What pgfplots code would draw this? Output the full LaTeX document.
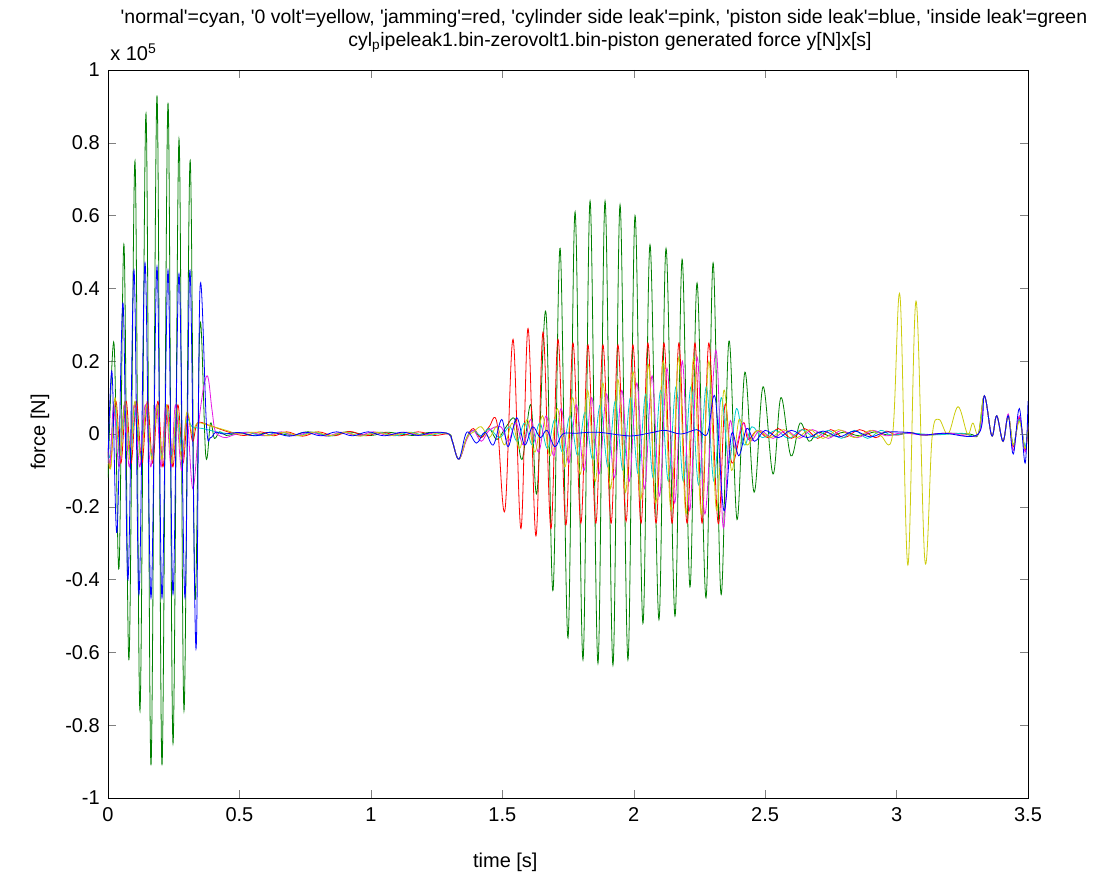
\documentclass[border=0pt]{standalone}
\usepackage{pgfplots}
\pgfplotsset{compat=1.18}
\usepackage{fontspec}
\setmainfont{Liberation Sans}
\newcommand\q{\textquotesingle}
\definecolor{mcyan}{rgb}{0,0.8,0.8}
\definecolor{myellow}{rgb}{0.8,0.8,0.05}
\definecolor{mgreen}{rgb}{0,0.5,0}
\definecolor{mred}{rgb}{1,0,0}
\definecolor{mpink}{rgb}{0.9,0.1,0.9}
\definecolor{mblue}{rgb}{0,0,1}
\begin{document}
\fontsize{15}{18}\selectfont
\begin{tikzpicture}
\path[use as bounding box] (-81pt,-58.5pt) rectangle (747pt,598.5pt);
\begin{axis}[at={(0,0)}, anchor=south west, width=690pt, height=546pt, scale only axis,
  xmin=0, xmax=3.5, ymin=-1, ymax=1,
  xtick={0,0.5,1,1.5,2,2.5,3,3.5},
  ytick={-1,-0.8,-0.6,-0.4,-0.2,0,0.2,0.4,0.6,0.8,1},
  tick align=inside, major tick length=6pt,
  /pgf/number format/assume math mode=true,
  tick label style={font=\fontsize{15}{18}\selectfont},
  yticklabel style={xshift=-1pt},
  xticklabel style={yshift=-2pt},
  axis line style={line width=0.6pt},
  every axis plot/.append style={line width=0.6pt, smooth, tension=0.6},
  clip=true]
% green
\addplot[mgreen] coordinates {
(0,-0.12)(0.0228,0.25)(0.0418,-0.37)(0.0609,0.52)(0.0799,-0.62)(0.1027,0.75)(0.1217,-0.76)(0.1446,0.88)(0.1636,-0.91)(0.1864,0.93)(0.2054,-0.91)(0.2283,0.91)(0.2473,-0.85)(0.2701,0.81)(0.2891,-0.76)(0.3120,0.75)(0.3310,-0.45)(0.3500,0.30)(0.372,-0.06)(0.39,0.03)(0.405,-0.012)(0.425,0.006)(0.45,-0.004)(0.50,0.003)(0.55,-0.004)(0.62,0.005)(0.70,-0.004)(0.76,0.006)(0.85,-0.005)(0.91,0.006)(1.00,-0.004)(1.06,0.005)(1.16,-0.004)(1.22,0.004)(1.297,0)(1.310,-0.02)(1.335,-0.069)(1.365,-0.01)(1.39,0.01)(1.42,-0.01)(1.45,0.015)(1.48,-0.015)(1.515,0.02)(1.548,0.04)(1.575,-0.07)(1.609,0.08)(1.632,-0.16)(1.666,0.335)(1.693,-0.43)(1.720,0.51)(1.750,-0.56)(1.777,0.61)(1.807,-0.62)(1.834,0.64)(1.864,-0.63)(1.891,0.64)(1.921,-0.635)(1.948,0.63)(1.978,-0.62)(2.005,0.60)(2.035,-0.52)(2.062,0.52)(2.096,-0.51)(2.123,0.51)(2.157,-0.50)(2.184,0.48)(2.214,-0.42)(2.241,0.415)(2.275,-0.45)(2.302,0.47)(2.332,-0.44)(2.362,0.255)(2.393,-0.235)(2.423,0.17)(2.458,-0.16)(2.492,0.13)(2.530,-0.11)(2.560,0.10)(2.598,-0.06)(2.633,0.03)(2.667,-0.02)(2.70,0.005)(2.75,-0.006)(2.80,0.005)(2.86,-0.005)(2.92,0.006)(2.97,-0.003)(3.05,0.003)(3.12,-0.003)(3.20,0.002)(3.28,0)(3.311,0)(3.334,0.105)(3.362,-0.005)(3.381,0.05)(3.405,-0.02)(3.425,0.05)(3.444,-0.03)(3.467,0.04)(3.489,-0.04)(3.5,0.03)
};
% red
\addplot[mred] coordinates {
(0,-0.05)(0.010,-0.09)(0.030,0.09)(0.049,-0.08)(0.069,0.09)(0.088,-0.08)(0.108,0.09)(0.129,-0.08)(0.150,0.09)(0.170,-0.08)(0.190,0.09)(0.209,-0.09)(0.228,0.08)(0.247,-0.09)(0.266,0.08)(0.285,-0.08)(0.303,0.05)(0.322,-0.02)(0.34,0.03)(0.38,0.025)(0.42,0.015)(0.47,0.003)(0.52,-0.004)(0.58,0.006)(0.63,-0.005)(0.68,0.006)(0.74,-0.006)(0.80,0.006)(0.86,-0.005)(0.92,0.007)(0.98,-0.005)(1.04,0.005)(1.11,-0.005)(1.18,0.006)(1.24,-0.004)(1.297,0)(1.310,-0.02)(1.335,-0.069)(1.365,-0.01)(1.39,0.015)(1.42,-0.01)(1.45,0.02)(1.480,0.03)(1.510,-0.21)(1.541,0.26)(1.571,-0.26)(1.598,0.29)(1.628,-0.28)(1.655,0.28)(1.685,-0.26)(1.712,0.26)(1.742,-0.25)(1.769,0.25)(1.799,-0.245)(1.826,0.245)(1.856,-0.245)(1.883,0.245)(1.914,-0.245)(1.940,0.245)(1.971,-0.24)(1.997,0.245)(2.028,-0.245)(2.054,0.25)(2.085,-0.245)(2.115,0.25)(2.146,-0.245)(2.172,0.25)(2.203,-0.245)(2.233,0.25)(2.260,-0.245)(2.286,0.25)(2.321,-0.245)(2.347,0.08)(2.374,-0.08)(2.416,0.03)(2.435,-0.015)(2.47,0.01)(2.51,-0.01)(2.55,0.015)(2.60,-0.012)(2.65,0.015)(2.70,-0.012)(2.75,0.012)(2.80,-0.01)(2.86,0.012)(2.92,-0.01)(2.96,0.008)(3.00,-0.003)(3.05,0.004)(3.10,-0.003)(3.18,0.002)(3.26,0)(3.311,0)(3.334,0.105)(3.362,-0.005)(3.381,0.05)(3.405,-0.02)(3.425,0.05)(3.444,-0.035)(3.467,0.045)(3.489,-0.045)(3.5,0.02)
};
% cyan
\addplot[mcyan] coordinates {
(0,-0.04)(0.008,-0.06)(0.025,0.07)(0.045,-0.06)(0.066,0.07)(0.085,-0.06)(0.105,0.07)(0.125,-0.06)(0.145,0.07)(0.166,-0.06)(0.186,0.07)(0.205,-0.06)(0.225,0.07)(0.244,-0.06)(0.263,0.06)(0.282,-0.05)(0.30,0.04)(0.32,0.02)(0.36,0.015)(0.42,0.005)(0.48,0)(0.53,0.005)(0.59,-0.005)(0.65,0.005)(0.72,-0.005)(0.78,0.005)(0.84,-0.006)(0.90,0.005)(0.96,-0.005)(1.03,0.005)(1.09,-0.005)(1.15,0.005)(1.21,-0.005)(1.27,0.003)(1.297,0)(1.310,-0.02)(1.335,-0.069)(1.365,-0.01)(1.39,0.01)(1.42,-0.005)(1.45,0.015)(1.49,-0.01)(1.528,0.02)(1.557,-0.02)(1.585,0.03)(1.614,-0.03)(1.643,0.03)(1.672,-0.04)(1.700,0.04)(1.729,-0.05)(1.758,0.05)(1.787,-0.06)(1.815,0.06)(1.844,-0.07)(1.873,0.08)(1.902,-0.09)(1.930,0.09)(1.959,-0.10)(1.988,0.10)(2.017,-0.11)(2.046,0.11)(2.074,-0.12)(2.103,0.12)(2.132,-0.13)(2.161,0.13)(2.189,-0.13)(2.218,0.13)(2.247,-0.14)(2.276,0.13)(2.305,-0.13)(2.333,0.10)(2.362,-0.08)(2.391,0.07)(2.420,-0.03)(2.45,0.02)(2.49,-0.01)(2.54,0.01)(2.59,-0.012)(2.64,0.012)(2.69,-0.01)(2.74,0.01)(2.79,-0.012)(2.84,0.01)(2.89,-0.012)(2.94,0.01)(2.98,-0.003)(3.05,0.002)(3.15,-0.002)(3.25,0.002)(3.311,0)(3.334,0.105)(3.362,-0.005)(3.381,0.05)(3.405,-0.02)(3.425,0.05)(3.444,-0.03)(3.467,0.04)(3.489,-0.035)(3.5,0.03)
};
% pink
\addplot[mpink] coordinates {
(0,-0.03)(0.008,-0.08)(0.022,0.08)(0.042,-0.09)(0.062,0.08)(0.081,-0.09)(0.100,0.08)(0.121,-0.09)(0.142,0.08)(0.163,-0.09)(0.184,0.08)(0.202,-0.09)(0.220,0.08)(0.240,-0.09)(0.257,0.08)(0.280,-0.10)(0.300,0.05)(0.323,-0.15)(0.350,0.06)(0.377,0.16)(0.395,0.07)(0.407,0.01)(0.425,-0.005)(0.45,-0.01)(0.48,-0.002)(0.54,0.005)(0.60,-0.005)(0.66,0.006)(0.71,-0.005)(0.77,0.005)(0.83,-0.006)(0.89,0.005)(0.95,-0.005)(1.01,0.006)(1.07,-0.005)(1.13,0.005)(1.19,-0.004)(1.25,0.004)(1.297,0)(1.310,-0.02)(1.335,-0.069)(1.365,-0.015)(1.39,0.01)(1.42,-0.02)(1.45,0.01)(1.494,0.02)(1.523,-0.02)(1.552,0.03)(1.580,-0.03)(1.609,0.04)(1.638,-0.05)(1.667,0.05)(1.696,-0.06)(1.724,0.07)(1.753,-0.08)(1.782,0.08)(1.811,-0.10)(1.840,0.10)(1.868,-0.11)(1.897,0.11)(1.926,-0.12)(1.955,0.12)(1.983,-0.13)(2.012,0.14)(2.041,-0.15)(2.070,0.16)(2.098,-0.17)(2.127,0.18)(2.156,-0.19)(2.185,0.20)(2.213,-0.21)(2.242,0.21)(2.271,-0.22)(2.313,0.23)(2.340,-0.255)(2.365,0.03)(2.386,-0.04)(2.415,0.03)(2.444,-0.02)(2.48,0.01)(2.53,-0.012)(2.58,0.01)(2.63,-0.012)(2.68,0.012)(2.74,-0.012)(2.79,0.01)(2.85,-0.01)(2.91,0.01)(2.96,-0.005)(3.02,0.003)(3.10,-0.002)(3.20,0.002)(3.311,0)(3.334,0.105)(3.362,-0.005)(3.381,0.05)(3.405,-0.02)(3.425,0.055)(3.444,-0.045)(3.467,0.05)(3.489,-0.05)(3.5,0.03)
};
% yellow
\addplot[myellow] coordinates {
(0,-0.05)(0.0114,-0.09)(0.0266,0.10)(0.0456,-0.06)(0.0647,0.09)(0.0837,-0.07)(0.1027,0.09)(0.125,-0.07)(0.147,0.08)(0.167,-0.07)(0.188,0.08)(0.205,-0.07)(0.223,0.08)(0.242,-0.08)(0.261,0.07)(0.280,-0.07)(0.300,0.06)(0.32,0.0)(0.34,0.03)(0.40,0.02)(0.45,0.01)(0.50,0)(0.56,0.005)(0.61,-0.005)(0.67,0.005)(0.73,-0.005)(0.79,0.006)(0.84,-0.005)(0.90,0.005)(0.96,-0.006)(1.02,0.005)(1.08,-0.004)(1.14,0.005)(1.20,-0.004)(1.26,0.003)(1.297,0)(1.310,-0.02)(1.335,-0.069)(1.365,-0.01)(1.39,0.005)(1.42,0.02)(1.45,-0.01)(1.480,0.02)(1.509,-0.03)(1.538,0.03)(1.566,-0.04)(1.595,0.04)(1.624,-0.05)(1.653,0.05)(1.682,-0.06)(1.710,0.07)(1.739,-0.09)(1.768,0.10)(1.797,-0.11)(1.825,0.12)(1.854,-0.13)(1.883,0.14)(1.912,-0.15)(1.940,0.15)(1.969,-0.16)(1.998,0.17)(2.027,-0.18)(2.056,0.19)(2.084,-0.19)(2.113,0.20)(2.142,-0.21)(2.171,0.21)(2.199,-0.22)(2.228,0.21)(2.257,-0.22)(2.286,0.20)(2.315,-0.21)(2.343,0.12)(2.372,-0.10)(2.401,0.04)(2.430,-0.03)(2.47,0.01)(2.52,-0.01)(2.57,0.012)(2.62,-0.01)(2.67,0.012)(2.72,-0.012)(2.78,0.012)(2.84,-0.01)(2.90,0.01)(2.94,-0.005)(2.985,0)(3.013,0.38)(3.043,-0.36)(3.074,0.365)(3.108,-0.35)(3.135,-0.01)(3.161,0.04)(3.196,0.0)(3.234,0.075)(3.270,0.0)(3.290,0.03)(3.311,0.0)(3.334,0.105)(3.362,-0.005)(3.381,0.05)(3.405,-0.02)(3.425,0.05)(3.444,-0.03)(3.467,0.035)(3.489,-0.04)(3.5,0.02)
};
% blue
\addplot[mblue] coordinates {
(0,-0.08)(0.0152,0.17)(0.0342,-0.27)(0.0571,0.36)(0.0761,-0.40)(0.0989,0.45)(0.1179,-0.44)(0.1408,0.47)(0.1636,-0.45)(0.1864,0.46)(0.2054,-0.45)(0.2283,0.45)(0.2473,-0.44)(0.2701,0.44)(0.2929,-0.45)(0.3120,0.45)(0.3348,-0.59)(0.3500,0.40)(0.375,0.02)(0.39,-0.01)(0.41,0.005)(0.44,0)(0.50,0.004)(0.56,-0.005)(0.62,0.005)(0.69,-0.006)(0.75,0.005)(0.81,-0.005)(0.87,0.006)(0.93,-0.005)(0.99,0.006)(1.05,-0.005)(1.12,0.005)(1.18,-0.004)(1.24,0.005)(1.297,0)(1.310,-0.02)(1.335,-0.069)(1.365,0.005)(1.402,-0.025)(1.434,0.005)(1.466,-0.03)(1.498,0.04)(1.522,-0.035)(1.555,0.045)(1.585,-0.03)(1.615,0.02)(1.645,-0.01)(1.67,0.01)(1.70,-0.035)(1.73,0.0)(1.78,0.002)(1.86,0.005)(1.95,-0.003)(2.00,-0.005)(2.07,0.004)(2.12,0.01)(2.18,0.0)(2.24,0.012)(2.28,0.0)(2.31,0.10)(2.343,-0.21)(2.372,0.0)(2.40,-0.06)(2.43,0.015)(2.46,-0.02)(2.50,0.01)(2.55,-0.01)(2.60,0.01)(2.66,-0.01)(2.72,0.008)(2.78,-0.008)(2.84,0.008)(2.90,-0.008)(2.96,0.005)(3.05,0.004)(3.10,-0.003)(3.18,0.002)(3.311,0)(3.334,0.105)(3.362,-0.005)(3.381,0.05)(3.405,-0.02)(3.425,0.05)(3.444,-0.055)(3.467,0.07)(3.489,-0.08)(3.5,0.09)
};
\end{axis}
\node[font=\fontsize{14.6}{17}\selectfont] at (372pt,585pt) {\q normal\q=cyan, \q 0 volt\q=yellow, \q jamming\q=red, \q cylinder side leak\q=pink, \q piston side leak\q=blue, \q inside leak\q=green};
\node[font=\fontsize{14.6}{17}\selectfont] at (376.5pt,567pt) {cyl\textsubscript{p}ipeleak1.bin-zerovolt1.bin-piston generated force y[N]x[s]};
\node[anchor=west, inner sep=0pt] at (1.5pt,559pt) {x 10\textsuperscript{5}};
\node[rotate=90] at (-51pt,274.5pt) {force [N]};
\node at (298pt,-48pt) {time [s]};
\end{tikzpicture}
\end{document}
